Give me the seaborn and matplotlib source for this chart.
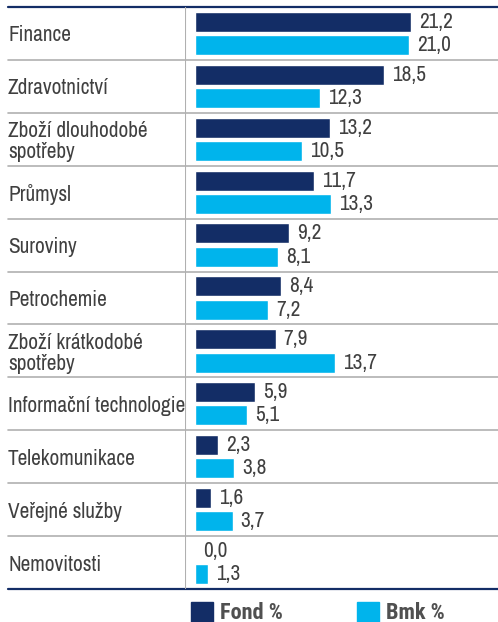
import matplotlib

matplotlib.use("Agg")
import matplotlib.pyplot as plt  # noqa: E402
import pandas as pd  # noqa: E402
import seaborn as sns  # noqa: E402
from matplotlib.patches import Rectangle  # noqa: E402

sectors = [
    "Finance",
    "Zdravotnictví",
    "Zboží dlouhodobé\nspotřeby",
    "Průmysl",
    "Suroviny",
    "Petrochemie",
    "Zboží krátkodobé\nspotřeby",
    "Informační technologie",
    "Telekomunikace",
    "Veřejné služby",
    "Nemovitosti",
]
fond = [21.2, 18.5, 13.2, 11.7, 9.2, 8.4, 7.9, 5.9, 2.3, 1.6, 0.0]
bmk = [21.0, 12.3, 10.5, 13.3, 8.1, 7.2, 13.7, 5.1, 3.8, 3.7, 1.3]
series = ["Fond %", "Bmk %"]

NAVY = "#132d66"
CYAN = "#00b4ec"
GRID = "#b0b0b0"
TEXT = "#404040"
PX = 0.72  # points per pixel at 100 dpi

sns.set_style("white")
plt.rcParams["font.family"] = ["Archivo Narrow", "DejaVu Sans"]

df = pd.DataFrame(
    {
        "sector": sectors * 2,
        "value": fond + bmk,
        "series": [series[0]] * len(sectors) + [series[1]] * len(sectors),
    }
)

W, H = 498, 622
fig = plt.figure(figsize=(W / 100, H / 100), dpi=100)
ax_left, ax_right = 185, 498
ax_top, ax_bottom = 7, 589
ax = fig.add_axes(
    [ax_left / W, 1 - ax_bottom / H, (ax_right - ax_left) / W, (ax_bottom - ax_top) / H]
)

sns.barplot(
    data=df,
    y="sector",
    x="value",
    hue="series",
    order=sectors,
    hue_order=series,
    palette=[NAVY, CYAN],
    saturation=1,
    orient="h",
    width=0.88,
    gap=0.14,
    legend=False,
    ax=ax,
)

ax.set_xlim(-0.98, 29.7)
ax.set_ylim(len(sectors) - 0.5, -0.5)
ax.set_xlabel("")
ax.set_ylabel("")
ax.set_xticks([])
for s in ax.spines.values():
    s.set_visible(False)

# category labels, left aligned at the page margin
ax.tick_params(axis="y", length=0, pad=(ax_left - 8) * PX, labelsize=15.3,
               labelcolor=TEXT)
for lab in ax.get_yticklabels():
    lab.set_ha("left")
    lab.set_linespacing(1.05)

# value labels
for cont in ax.containers:
    ax.bar_label(
        cont,
        labels=[f"{v:.1f}".replace(".", ",") for v in cont.datavalues],
        padding=8 * PX,
        fontsize=15.3,
        color=TEXT,
    )

# row separators and frame lines
xmin = -(ax_left - 8) / (ax_right - ax_left)
for i in range(1, len(sectors)):
    ax.axhline(i - 0.5, xmin=xmin, xmax=1, color=GRID, lw=1.2, clip_on=False)
ax.axhline(-0.5, xmin=xmin, xmax=1, color=NAVY, lw=1.6, clip_on=False)
ax.axhline(len(sectors) - 0.5, xmin=xmin, xmax=1, color=NAVY, lw=1.6, clip_on=False)
ax.axvline(-0.98, color=GRID, lw=1.5)

# cut-off title at the top
fig.text(8 / W, 1 + 8 / H, "Sektor", fontsize=16, fontweight="bold",
         family=["Roboto Condensed", "DejaVu Sans"], color=NAVY,
         ha="left", va="center")

# legend at the bottom
for x0, name, col in [(191, series[0], NAVY), (357, series[1], CYAN)]:
    fig.patches.append(
        Rectangle((x0 / W, 0), 22 / W, 20 / H, transform=fig.transFigure,
                  color=col, zorder=3)
    )
    fig.text((x0 + 29) / W, 1 - 613 / H, name, fontsize=16, fontweight="bold",
             family=["Roboto Condensed", "DejaVu Sans"], color="#505050",
             ha="left", va="center")

plt.savefig("out.png", dpi=100)
